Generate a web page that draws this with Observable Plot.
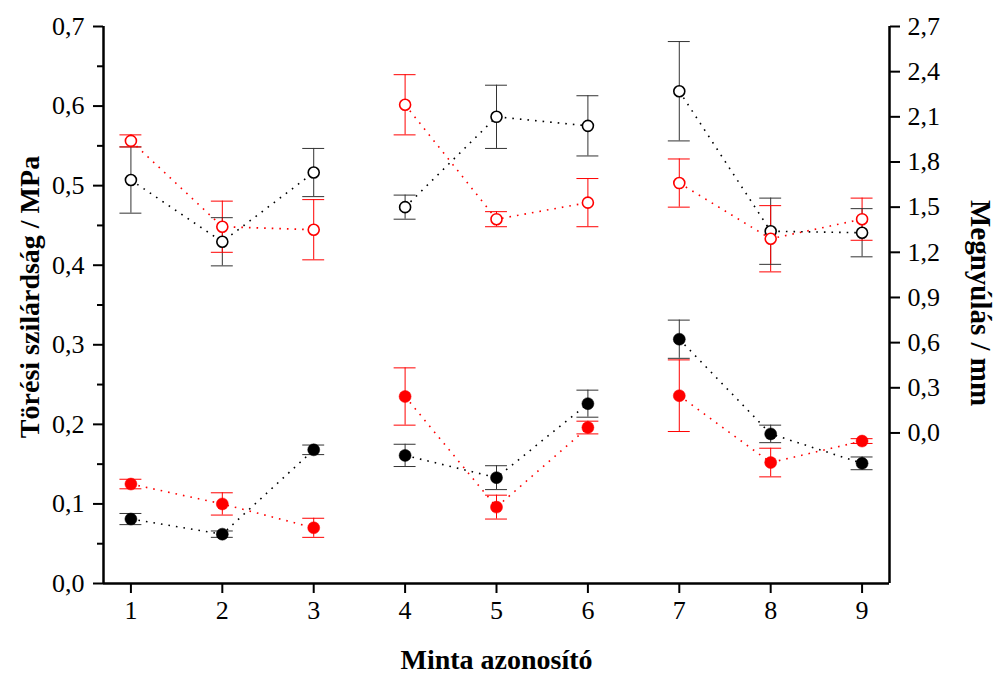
<!DOCTYPE html>
<html><head><meta charset="utf-8">
<script src="https://cdn.jsdelivr.net/npm/d3@7"></script>
<script src="https://cdn.jsdelivr.net/npm/@observablehq/plot@0.6"></script>
<style>
body{margin:0;background:#fff}
</style>
</head><body><div id="chart"></div>
<script>
// Minta azonosító (sample id) and connection groups
const samples = [1, 2, 3, 4, 5, 6, 7, 8, 9];
const groups  = [1, 1, 1, 2, 2, 2, 3, 3, 3];

// Törési szilárdság / MPa (left axis, filled markers)
const strengthBlack    = [0.081, 0.062, 0.168, 0.161, 0.133, 0.226, 0.307, 0.188, 0.151];
const strengthBlackErr = [0.007, 0.004, 0.006, 0.014, 0.015, 0.017, 0.024, 0.011, 0.008];
const strengthRed      = [0.125, 0.100, 0.070, 0.235, 0.096, 0.196, 0.236, 0.152, 0.179];
const strengthRedErr   = [0.006, 0.014, 0.012, 0.036, 0.015, 0.008, 0.045, 0.018, 0.003];

// Megnyúlás / mm (right axis, open markers)
const elongBlack    = [1.68, 1.27, 1.73, 1.50, 2.10, 2.04, 2.27, 1.34, 1.33];
const elongBlackErr = [0.22, 0.16, 0.16, 0.08, 0.21, 0.20, 0.33, 0.22, 0.16];
const elongRed      = [1.94, 1.37, 1.35, 2.18, 1.42, 1.53, 1.66, 1.29, 1.42];
const elongRedErr   = [0.04, 0.17, 0.20, 0.20, 0.05, 0.16, 0.16, 0.22, 0.14];

// Tick values
const leftTicks      = [0, 0.1, 0.2, 0.3, 0.4, 0.5, 0.6, 0.7];
const leftMinorTicks = [0.05, 0.15, 0.25, 0.35, 0.45, 0.55, 0.65];
const rightTicks     = [0, 0.3, 0.6, 0.9, 1.2, 1.5, 1.8, 2.1, 2.4, 2.7];

// axis domains
const leftDomain  = [0, 0.7];
const rightDomain = [-1, 2.7];
const xDomain     = [0.7, 9.3];

const serif = "Liberation Serif";

const toLeft = r => leftDomain[0] + (r - rightDomain[0]) / (rightDomain[1] - rightDomain[0]) * (leftDomain[1] - leftDomain[0]);
const fromLeft = v => rightDomain[0] + (v - leftDomain[0]) / (leftDomain[1] - leftDomain[0]) * (rightDomain[1] - rightDomain[0]);
const fmt = v => d3.format(".1f")(Math.abs(v) < 1e-9 ? 0 : v).replace(".", ",");

function rows(vals, errs, color, kind, conv) {
  return samples.map((s, i) => ({
    x: s, group: groups[i], color, kind,
    y: conv(vals[i]), lo: conv(vals[i] - errs[i]), hi: conv(vals[i] + errs[i])
  }));
}
const id = v => v;
const filled = [
  ...rows(strengthBlack, strengthBlackErr, "#000000", "f", id),
  ...rows(strengthRed, strengthRedErr, "#ff0000", "f", id)
];
const open = [
  ...rows(elongBlack, elongBlackErr, "#000000", "o", toLeft),
  ...rows(elongRed, elongRedErr, "#ff0000", "o", toLeft)
];
const all = [...open, ...filled];
const capHalf = 0.12;
const errColor = d => d.color === "#000000" ? "#333333" : "#ff0000";

const chart = Plot.plot({
  width: 1007, height: 673,
  marginLeft: 103, marginRight: 118, marginTop: 26, marginBottom: 90,
  x: {domain: xDomain, axis: null},
  y: {domain: leftDomain, axis: null},
  color: {type: "identity"},
  style: {background: "#fff", fontFamily: serif},
  marks: [
    // error bars
    Plot.ruleX(all, {x: "x", y1: "lo", y2: "hi", stroke: errColor, strokeWidth: 1}),
    Plot.ruleY(all, {y: "hi", x1: d => d.x - capHalf, x2: d => d.x + capHalf, stroke: errColor, strokeWidth: 1}),
    Plot.ruleY(all, {y: "lo", x1: d => d.x - capHalf, x2: d => d.x + capHalf, stroke: errColor, strokeWidth: 1}),
    // dotted connecting lines
    Plot.line(all, {x: "x", y: "y", z: d => d.color + d.kind + d.group, stroke: "color",
      strokeWidth: 1.6, strokeDasharray: "1.6,6", strokeLinecap: "butt"}),
    // markers
    Plot.dot(filled, {x: "x", y: "y", r: 6, fill: "color", stroke: "color", strokeWidth: 0.5}),
    Plot.dot(open, {x: "x", y: "y", r: 5.5, fill: "white", stroke: "color", strokeWidth: 1.6}),
    // axes
    Plot.axisX({ticks: samples, tickSize: 10, tickPadding: 7, tickFormat: d => String(d),
      fontSize: 26, fontFamily: serif, label: null, strokeWidth: 2}),
    Plot.axisY({ticks: leftTicks, tickSize: 10, tickPadding: 9, tickFormat: fmt,
      fontSize: 26, fontFamily: serif, label: null, strokeWidth: 2}),
    Plot.axisY({ticks: leftMinorTicks, tickSize: 6, tickFormat: () => "", label: null, strokeWidth: 2}),
    Plot.axisY({anchor: "right", ticks: rightTicks.map(toLeft), tickSize: 10, tickPadding: 8,
      tickFormat: v => fmt(Math.round(fromLeft(v) * 10) / 10), fontSize: 26, fontFamily: serif,
      label: null, strokeWidth: 2}),
    // axis lines (no top frame)
    Plot.ruleX([xDomain[0], xDomain[1]], {y1: leftDomain[0], y2: leftDomain[1], strokeWidth: 2.5}),
    Plot.ruleY([leftDomain[0]], {x1: xDomain[0], x2: xDomain[1], strokeWidth: 2.5}),
    // axis titles
    Plot.text(["Törési szilárdság / MPa"], {frameAnchor: "left", textAnchor: "middle", dx: -73, dy: -8,
      rotate: -90, fontSize: 28, fontWeight: "bold", fontFamily: serif}),
    Plot.text(["Megnyúlás / mm"], {frameAnchor: "right", textAnchor: "middle", dx: 91, dy: -2,
      rotate: 90, fontSize: 29, fontWeight: "bold", fontFamily: serif}),
    Plot.text(["Minta azonosító"], {frameAnchor: "bottom", dy: 85, fontSize: 28, fontWeight: "bold",
      fontFamily: serif})
  ]
});
document.getElementById("chart").appendChild(chart);
</script>
</body></html>
